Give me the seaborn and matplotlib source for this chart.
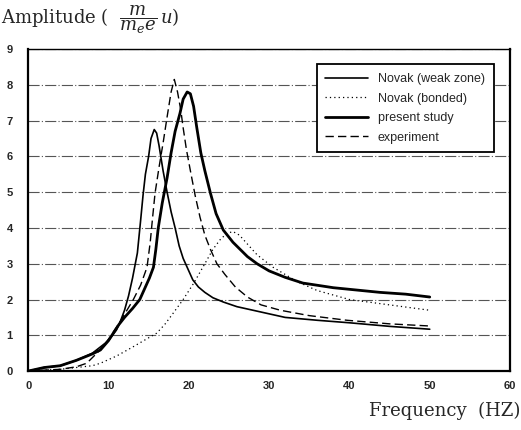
import numpy as np
import pandas as pd
import matplotlib
matplotlib.use("Agg")
import matplotlib.pyplot as plt
import seaborn as sns

# datos
weak_x = [0, 2, 4, 6, 8, 10, 11, 11.5, 12, 12.5, 13, 13.3, 13.6, 14.0, 14.3, 14.6, 15.0, 15.3, 15.7, 16.0, 16.3, 16.8, 17.3,
          17.8, 18.3, 18.8, 19.3, 20, 20.5, 21.2, 22, 23, 24.3, 26, 28, 32, 36, 40, 45, 50]
weak_y = [0, 0.1, 0.15, 0.3, 0.5, 0.85, 1.15, 1.4, 1.7, 2.1, 2.6, 2.95, 3.3, 4.2, 4.9, 5.5, 6.0, 6.5, 6.75, 6.65, 6.3, 5.6, 5.0,
          4.45, 4.0, 3.5, 3.15, 2.8, 2.55, 2.35, 2.2, 2.05, 1.93, 1.8, 1.7, 1.5, 1.42, 1.35, 1.25, 1.17]

bonded_x = [0, 4, 8, 9, 11, 13, 16, 17, 18, 19.3, 20.6, 22, 23, 24, 24.8, 25.5, 26.3, 27.3, 28.5, 30.5, 33.5, 36, 40, 45, 50]
bonded_y = [0, 0.05, 0.15, 0.22, 0.42, 0.67, 1.06, 1.3, 1.6, 2.0, 2.45, 3.0, 3.4, 3.7, 3.85, 3.9, 3.8, 3.55, 3.25, 2.9, 2.5,
            2.25, 2.0, 1.85, 1.7]

present_x = [0, 2, 4, 6, 8, 9, 10, 10.6, 11.3, 12, 13, 13.9, 14.5, 15.1, 15.6, 15.9, 16.2, 16.7, 17.3, 17.8, 18.3, 18.9, 19.3,
             19.8, 20.2, 20.6, 21, 21.5, 22, 22.7, 23.4, 24.3, 25.5, 27.3, 28.5, 30, 32, 34.2, 38, 43.8, 47, 50]
present_y = [0, 0.1, 0.15, 0.3, 0.48, 0.59, 0.85, 1.06, 1.3, 1.5, 1.75, 2.0, 2.3, 2.6, 2.9, 3.4, 4.0, 4.7, 5.4, 6.1, 6.7, 7.2, 7.6,
             7.8, 7.75, 7.4, 6.8, 6.1, 5.6, 4.97, 4.4, 3.94, 3.6, 3.2, 3.0, 2.8, 2.62, 2.46, 2.33, 2.2, 2.15, 2.07]

exp_x = [0, 4, 6, 7.3, 9, 10.2, 11.5, 12.3, 13.1, 14, 14.8, 15.2, 15.5, 15.8, 16.3, 16.8, 17.3, 17.8, 18.2, 18.6, 19, 19.3,
         19.7, 20.2, 20.8, 21.4, 22, 22.7, 23.5, 24.5, 25.8, 27.3, 29, 31.4, 35, 39.7, 45, 50]
exp_y = [0, 0.05, 0.12, 0.22, 0.6, 0.95, 1.4, 1.7, 2.0, 2.4, 2.9, 3.6, 4.3, 4.97, 5.7, 6.37, 7.1, 7.8, 8.15, 7.8, 7.3, 6.8,
         6.2, 5.6, 4.9, 4.3, 3.8, 3.4, 3.0, 2.7, 2.35, 2.07, 1.85, 1.7, 1.55, 1.42, 1.32, 1.26]

x_ticks = [0, 10, 20, 30, 40, 50, 60]
y_ticks = [0, 1, 2, 3, 4, 5, 6, 7, 8, 9]

sns.set_style("white")
plt.rcParams['font.family'] = ['Liberation Sans', 'DejaVu Sans']
plt.rcParams['mathtext.fontset'] = 'dejavuserif'

fig = plt.figure(figsize=(5.21, 4.30), dpi=100)
ax = fig.add_axes([0.054, 0.137, 0.925, 0.749])

# estilo de cada curva
series = [
    ("Novak (weak zone)", weak_x, weak_y, dict(lw=1.2, ls="-")),
    ("Novak (bonded)", bonded_x, bonded_y, dict(lw=0.9, ls=(0, (1, 2.5)))),
    ("present study", present_x, present_y, dict(lw=2.0, ls="-")),
    ("experiment", exp_x, exp_y, dict(lw=1.0, ls=(0, (6, 3)))),
]
for nombre, xs, ys, st in series:
    sns.lineplot(x=xs, y=ys, ax=ax, color="black", label=nombre, sort=False, **st)

ax.set_xlim(0, 60)
ax.set_ylim(0, 9)
ax.set_xticks(x_ticks)
ax.set_yticks(y_ticks)
ax.tick_params(axis="x", length=0, labelsize=8, pad=7)
ax.tick_params(axis="y", length=0, labelsize=8, pad=11)
for lab in ax.get_xticklabels() + ax.get_yticklabels():
    lab.set_fontweight("bold")

ax.yaxis.grid(True, color="#555555", lw=0.8, ls=(0, (10, 2, 1, 2)))
ax.xaxis.grid(False)
for lado in ["left", "bottom", "right"]:
    ax.spines[lado].set_color("black")
    ax.spines[lado].set_linewidth(1.6)
ax.spines["top"].set_color("black")
ax.spines["top"].set_linewidth(1.0)

leg = ax.legend(loc="upper right", bbox_to_anchor=(0.979, 0.972), fontsize=9,
                frameon=True, fancybox=False, edgecolor="black", framealpha=1,
                handlelength=3.4, borderpad=0.7, labelspacing=0.6)
leg.get_frame().set_linewidth(1.3)

fig.text(0.002, 0.955, r"Amplitude (  $\dfrac{m}{m_e e}\,u$)", fontsize=13,
         family="DejaVu Serif", va="center", ha="left")
fig.text(0.998, 0.045, "Frequency  (HZ)", fontsize=13, family="DejaVu Serif",
         va="center", ha="right")

fig.savefig("out.png", dpi=100)
